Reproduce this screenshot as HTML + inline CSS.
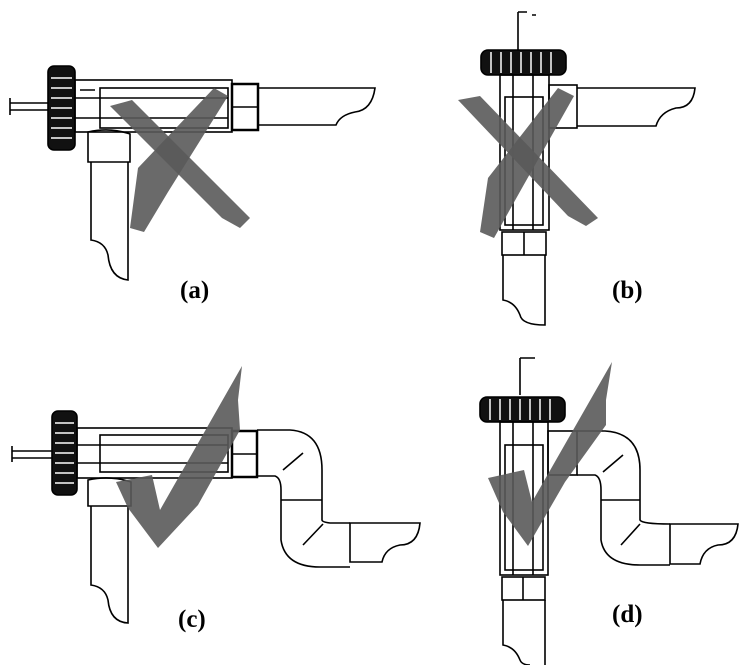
<!DOCTYPE html>
<html><head><style>
html,body{margin:0;padding:0;background:#fff;}
svg{display:block;}
text{font-family:"Liberation Serif",serif;font-weight:bold;font-size:25px;}
</style></head><body>
<svg width="756" height="665" viewBox="0 0 756 665" xmlns="http://www.w3.org/2000/svg">
<g fill="none" stroke="#000" stroke-width="1.6">
<!-- (a) -->
<path d="M10,103 L48,103 M10,110 L48,110 M10,98 L10,115"/>
<rect x="48" y="66" width="27" height="84" rx="6" fill="#111"/>
<g stroke="#fff" stroke-width="1.5"><path d="M51,78H72M51,88H72M51,98H72M51,108H72M51,118H72M51,128H72M51,138H72"/></g>
<rect x="75" y="80" width="157" height="52"/>
<rect x="100" y="88" width="128" height="40"/>
<path d="M75,98H228M75,118H228M80,90H95"/>
<rect x="232" y="84" width="26" height="46" stroke-width="2.5"/>
<path d="M232,107H258"/>
<path d="M258,88H375 Q372,110 355,112 Q340,115 336,125 H258"/>
<path d="M88,132 Q110,127 130,134 V162 H88 Z"/>
<path d="M91,162 V240 Q105,242 108,255 Q110,278 128,280 V162"/>
<!-- (b) -->
<path d="M518,50 V12 M518,12 H527 M532,15 H536"/>
<rect x="481" y="50" width="85" height="25" rx="7" fill="#111"/>
<g stroke="#fff" stroke-width="1.5"><path d="M491,52V73M501,52V73M511,52V73M521,52V73M531,52V73M541,52V73M551,52V73"/></g>
<rect x="500" y="75" width="49" height="155"/>
<rect x="505" y="97" width="38" height="128"/>
<path d="M513,75V230M533,75V230"/>
<rect x="502" y="232" width="44" height="23"/>
<path d="M524,232V255"/>
<path d="M503,255 V300 Q515,302 520,315 Q522,325 545,325 V255"/>
<rect x="549" y="85" width="28" height="43"/>
<path d="M577,88H695 Q693,108 676,108 Q660,112 656,126 H577"/>
<!-- (c) -->
<path d="M12,451 L52,451 M12,458 L52,458 M12,446 L12,462"/>
<rect x="52" y="411" width="25" height="84" rx="6" fill="#111"/>
<g stroke="#fff" stroke-width="1.5"><path d="M55,423H74M55,433H74M55,443H74M55,453H74M55,463H74M55,473H74M55,483H74"/></g>
<rect x="77" y="428" width="155" height="50"/>
<rect x="100" y="435" width="128" height="37"/>
<path d="M77,445H228M77,463H228"/>
<rect x="232" y="431" width="25" height="46" stroke-width="2.5"/>
<path d="M232,454H257"/>
<path d="M257,430 H290 Q322,432 322,470 V520 Q322,522 330,523 H350"/>
<path d="M257,476 H275 Q281,478 281,490 V540 Q285,567 320,567 H350"/>
<path d="M281,500H322M283,470L303,453M303,545L323,524"/>
<path d="M350,523H420 Q418,545 400,545 Q385,548 382,562 H350 Z"/>
<path d="M88,480 Q110,475 131,482 V506 H88 Z"/>
<path d="M91,506 V585 Q105,587 108,600 Q110,622 128,623 V506"/>
<!-- (d) -->
<path d="M520,395 V358 M520,358 H535"/>
<rect x="480" y="397" width="85" height="25" rx="7" fill="#111"/>
<g stroke="#fff" stroke-width="1.5"><path d="M490,399V420M500,399V420M510,399V420M520,399V420M530,399V420M540,399V420M550,399V420"/></g>
<rect x="500" y="422" width="48" height="153"/>
<rect x="505" y="445" width="38" height="125"/>
<path d="M513,422V575M533,422V575"/>
<rect x="502" y="577" width="43" height="23"/>
<path d="M523,577V600"/>
<path d="M503,600 V645 Q515,647 520,660 Q522,665 530,665 M545,600V665"/>
<rect x="548" y="431" width="29" height="44"/>
<path d="M577,431 H605 Q640,433 640,470 V520 Q642,524 670,524"/>
<path d="M577,475 H595 Q601,477 601,490 V540 Q605,565 640,565 H670"/>
<path d="M601,500H640M603,472L623,455M621,545L640,524"/>
<path d="M670,524H738 Q736,545 718,545 Q703,548 700,564 H670 Z"/>
</g>
<g fill="#5a5a5a" fill-opacity="0.9">
<polygon points="110,106 132,100 250,218 240,228 222,218"/>
<polygon points="130,228 138,168 214,88 228,96 168,192 144,232"/>
<polygon points="458,100 480,96 598,218 586,226 568,216"/>
<polygon points="480,232 488,178 558,88 574,96 522,188 494,238"/>
<polygon points="116,482 152,475 160,510 242,366 238,400 240,430 198,505 158,548 128,508"/>
<polygon points="488,478 524,470 532,502 612,362 606,400 606,425 565,482 528,546 503,512"/>
</g>
<text x="180" y="298">(a)</text>
<text x="612" y="298">(b)</text>
<text x="178" y="627">(c)</text>
<text x="612" y="622">(d)</text>
</svg>
</body></html>
